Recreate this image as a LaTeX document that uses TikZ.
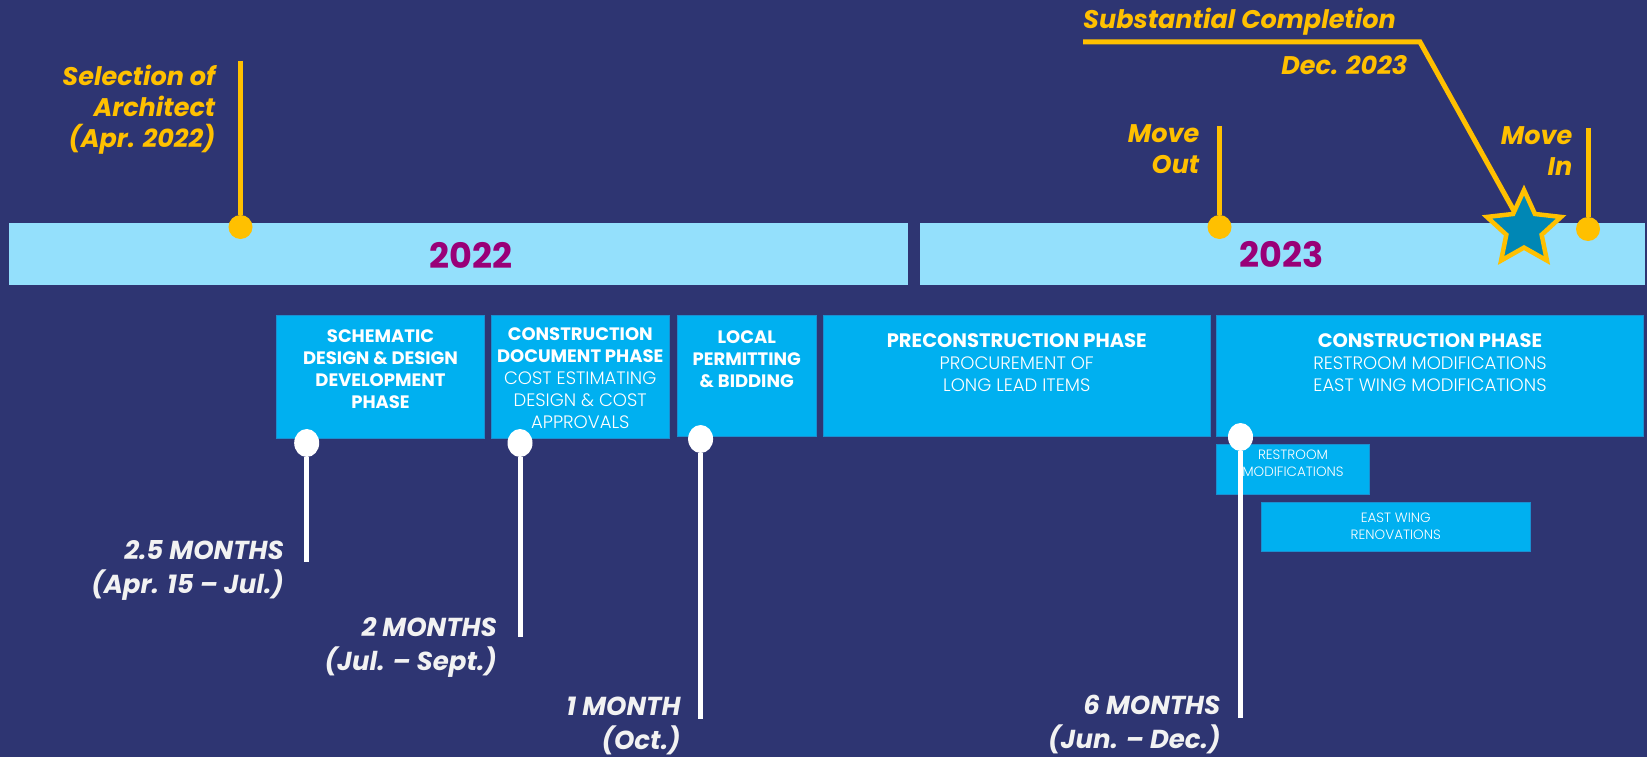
\documentclass[tikz,border=0pt]{standalone}
\usepackage{fontspec}
\setmainfont{Poppins}
\newfontfamily\lightfont{Poppins Light}
\usetikzlibrary{positioning,shapes}
\definecolor{navy}{HTML}{2E3572}
\definecolor{barblue}{HTML}{94E0FC}
\definecolor{yearpurple}{HTML}{990078}
\definecolor{phaseblue}{HTML}{00B0F0}
\definecolor{phaseedge}{HTML}{1A8FD0}
\definecolor{gold}{HTML}{FFC000}
\definecolor{starblue}{HTML}{0087B5}
\definecolor{labelwhite}{HTML}{F2F2F2}
\tikzset{
	year bar/.style={fill=barblue, minimum height=62pt, inner sep=0pt, anchor=north west},
	year text/.style={text=yearpurple, inner sep=0pt, font=\fontsize{35}{35}\selectfont\bfseries},
	phase box/.style={fill=phaseblue, draw=phaseedge, line width=1pt, inner sep=0pt, anchor=north west},
	phase text/.style={text=white, align=center, inner sep=0pt, anchor=north, font=\fontsize{18}{22}\selectfont},
	small text/.style={text=white, align=center, inner sep=0pt, anchor=north, font=\fontsize{13.5}{16.5}\selectfont\lightfont},
	gold line/.style={draw=gold, line width=5pt},
	white line/.style={draw=white, line width=5pt},
	gold dot/.style={circle, fill=gold, minimum size=24pt, inner sep=0pt},
	white dot/.style={ellipse, fill=white, minimum width=25pt, minimum height=28pt, inner sep=0pt},
	gold label/.style={text=gold, align=right, inner sep=0pt, font=\fontsize{25.5}{31}\selectfont\bfseries\itshape},
	white label/.style={text=labelwhite, align=right, inner sep=0pt, font=\fontsize{26}{34}\selectfont\bfseries\itshape},
	star mark/.style={star, star points=5, star point ratio=2.1, minimum size=78pt, inner sep=0pt},
}
\begin{document}
\begin{tikzpicture}[x=1pt,y=-1pt]
	% background
	\fill[navy] (0,0) rectangle (1647,757);

	% year bars
	\node [year bar,minimum width=899pt] (bar22) at (8.4,222.7) {};
	\node [year bar,minimum width=725pt] (bar23) at (920,222.7) {};
	\node [year text] (yr22) at (470.6,255) {2022};
	\node [year text] (yr23) at (1281.5,255) {2023};

	% phase boxes
	\node [phase box,minimum width=208pt,minimum height=123pt] (sdbox) at (276,315) {};
	\node [phase box,minimum width=178.5pt,minimum height=123pt] (cdbox) at (490.5,315) {};
	\node [phase box,minimum width=139.5pt,minimum height=121pt] (lpbox) at (676.5,315) {};
	\node [phase box,minimum width=387.5pt,minimum height=121pt] (pcbox) at (822.5,315) {};
	\node [phase box,minimum width=427pt,minimum height=121pt] (cpbox) at (1216,315) {};
	\node [phase box,minimum width=153pt,minimum height=50pt] (rmbox) at (1216,444) {};
	\node [phase box,minimum width=269.5pt,minimum height=49pt] (ewbox) at (1260.5,502) {};

	\node [phase text,below=14pt of sdbox.north] (sdtext) {\bfseries SCHEMATIC\\\bfseries DESIGN \& DESIGN\\\bfseries DEVELOPMENT\\\bfseries PHASE};
	\node [phase text,below=12.5pt of cdbox.north] (cdtext) {\bfseries CONSTRUCTION\\\bfseries DOCUMENT PHASE\\\lightfont COST ESTIMATING\\\lightfont DESIGN \& COST\\\lightfont APPROVALS};
	\node [phase text,below=15.5pt of lpbox.north] (lptext) {\bfseries LOCAL\\\bfseries PERMITTING\\\bfseries \& BIDDING};
	\node [phase text,below=18pt of pcbox.north] (pctext) {\fontsize{19.5}{22}\selectfont\bfseries PRECONSTRUCTION PHASE\\\lightfont PROCUREMENT OF\\\lightfont LONG LEAD ITEMS};
	\node [phase text,below=18pt of cpbox.north] (cptext) {\fontsize{19.5}{22}\selectfont\bfseries CONSTRUCTION PHASE\\\lightfont RESTROOM MODIFICATIONS\\\lightfont EAST WING MODIFICATIONS};
	\node [small text,below=6pt of rmbox.north] (rmtext) {RESTROOM\\MODIFICATIONS};
	\node [small text,below=11pt of ewbox.north] (ewtext) {EAST WING\\RENOVATIONS};

	% gold milestones
	\coordinate (archtop) at (240.5,61);
	\node [gold dot] (archdot) at (240.5,227) {};
	\draw [gold line] (archtop) -- (archdot);
	\node [gold label,below left=4pt and 25pt of archtop] (archlbl) {Selection of\\Architect\\(Apr. 2022)};

	\coordinate (mvouttop) at (1219.5,126);
	\node [gold dot] (mvoutdot) at (1219.5,227) {};
	\draw [gold line] (mvouttop) -- (mvoutdot);
	\node [gold label,left=20pt of mvouttop,anchor=north east,yshift=2pt] (mvoutlbl) {Move\\Out};

	\coordinate (mvintop) at (1588,128);
	\node [gold dot] (mvindot) at (1588,229) {};
	\draw [gold line] (mvintop) -- (mvindot);
	\node [gold label,left=15.5pt of mvintop,anchor=north east,yshift=2pt] (mvinlbl) {Move\\In};

	\coordinate (sclstart) at (1083,42);
	\coordinate (sclbend) at (1420,42);
	\node [star mark] (star) at (1524,229) {};
	\draw [gold line] (sclstart) -- (sclbend) -- (star.center);
	\node [star mark,fill=starblue,draw=gold,line width=4.5pt] at (star.center) {};
	\node [gold label,anchor=base west] (scltext) at (1083,29) {Substantial Completion};
	\node [gold label,anchor=base east] (scldate) at (1407.5,75) {Dec. 2023};

	% white durations
	\node [white dot] (sddot) at (306.7,443) {};
	\coordinate (sdend) at (306.7,562);
	\draw [white line] (sddot) -- (sdend);
	\node [white label,anchor=north east] (sdlbl) at (284,540) {2.5 MONTHS\\(Apr. 15 – Jul.)};

	\node [white dot] (cddot) at (520,443) {};
	\coordinate (cdend) at (520,636.5);
	\draw [white line] (cddot) -- (cdend);
	\node [white label,anchor=north east] (cdlbl) at (497,617.5) {2 MONTHS\\(Jul. – Sept.)};

	\node [white dot] (lpdot) at (700.6,439) {};
	\coordinate (lpend) at (700.6,718.5);
	\draw [white line] (lpdot) -- (lpend);
	\node [white label,anchor=north east] (lplbl) at (680.7,696.5) {1 MONTH\\(Oct.)};

	\node [white dot] (cpdot) at (1240.5,437) {};
	\coordinate (cpend) at (1240.5,717.5);
	\draw [white line] (cpdot) -- (cpend);
	\node [white label,anchor=north east] (cplbl) at (1220.6,694.5) {6 MONTHS\\(Jun. – Dec.)};
\end{tikzpicture}
\end{document}
